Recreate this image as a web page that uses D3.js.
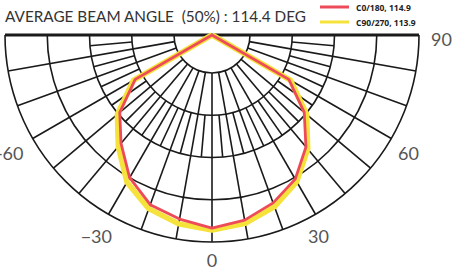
<!DOCTYPE html>
<html><head><meta charset="utf-8">
<script src="https://cdn.jsdelivr.net/npm/d3@7"></script>
<style>html,body{margin:0;padding:0;background:#fff;}svg{display:block;}</style>
</head><body>
<svg id="c" width="454" height="273"></svg>
<script>
const titleText = "AVERAGE BEAM ANGLE  (50%) : 114.4 DEG";
const seriesNames = ["C0/180, 114.9", "C90/270, 113.9"];
const seriesColors = ["#ee4b5a", "#f5e23a"];
const angles = [-90,-80,-70,-60,-50,-40,-30,-20,-10,0,10,20,30,40,50,60,70,80,90];
const redValues = [0,0,0,440,590,690,800,875,905,934,910,866,808,712,590,440,0,0,0];
const yellowValues = [0,0,0,450,605,710,825,895,928,943,925,885,822,725,605,450,0,0,0];
const ringValues = [200,400,600,800,1000];
const angleLabels = ["-60", "\u221230", "0", "30", "60", "90"];

const svg = d3.select("#c");
const cx = 212, cy = 35;
const r = d3.scaleLinear().domain([0,200,1000]).range([0,38,207]);
const toRad = d => (180 - d) * Math.PI / 180; // d3 radial: 0 = up, clockwise
const g = svg.append("g").attr("transform", `translate(${cx},${cy})`);
const gridColor = "#1a1a1a";

// rings
const arc = d3.arc().startAngle(Math.PI/2).endAngle(3*Math.PI/2);
ringValues.forEach(v => {
  g.append("path").attr("d", arc({innerRadius: r(v), outerRadius: r(v)}))
   .attr("fill","none").attr("stroke",gridColor).attr("stroke-width",1.6);
});
function spoke(a, v0, v1) {
  const t = toRad(a), r0 = r(v0), r1 = r(v1);
  g.append("line")
   .attr("x1", r0*Math.sin(t)).attr("y1", -r0*Math.cos(t))
   .attr("x2", r1*Math.sin(t)).attr("y2", -r1*Math.cos(t))
   .attr("stroke",gridColor).attr("stroke-width",1.6);
}
// 10-degree spokes through all bands
d3.range(-80, 81, 10).forEach(a => spoke(a, ringValues[0], ringValues[4]));
// extra 5-degree spokes in the second band
d3.range(-85, 86, 10).forEach(a => spoke(a, ringValues[1], ringValues[2]));
// top line
g.append("line").attr("x1", -r(1000)).attr("x2", r(1000)).attr("y1",0).attr("y2",0)
  .attr("stroke",gridColor).attr("stroke-width",3);

// curves
const line = d3.lineRadial().angle(d => toRad(d[0])).radius(d => r(d[1]));
g.append("path").datum(angles.map((a,i)=>[a,yellowValues[i]]))
  .attr("d", line).attr("fill","none").attr("stroke",seriesColors[1]).attr("stroke-width",5.5)
  .attr("stroke-linejoin","round");
g.append("path").datum(angles.map((a,i)=>[a,redValues[i]]))
  .attr("d", line).attr("fill","none").attr("stroke",seriesColors[0]).attr("stroke-width",2.8)
  .attr("stroke-linejoin","round");

// angle labels
const labelPos = [[23.5,160,"end"],[112,243,"end"],[212,267,"middle"],[308,243,"start"],[398,160,"start"],[431,46,"start"]];
angleLabels.forEach((t,i) => {
  const p = labelPos[i];
  svg.append("text").attr("x",p[0]).attr("y",p[1]).attr("text-anchor",p[2])
    .attr("font-family","Lato, 'Open Sans', sans-serif").attr("font-size",18)
    .attr("fill","#555").text(t);
});

// title
svg.append("text").attr("x",5).attr("y",22).attr("font-family","Lato, 'Open Sans', sans-serif")
  .attr("font-size",15.3).attr("fill","#333").style("white-space","pre").text(titleText);

// legend
seriesNames.forEach((n,i) => {
  const y = 7 + i*15;
  svg.append("line").attr("x1",320).attr("x2",349).attr("y1",y).attr("y2",y)
    .attr("stroke",seriesColors[i]).attr("stroke-width",3);
  svg.append("text").attr("x",356).attr("y",y+4).attr("font-family","'Open Sans', sans-serif")
    .attr("font-weight","bold").attr("font-size",8.5).attr("fill","#222").text(n);
});
</script>
</body></html>
